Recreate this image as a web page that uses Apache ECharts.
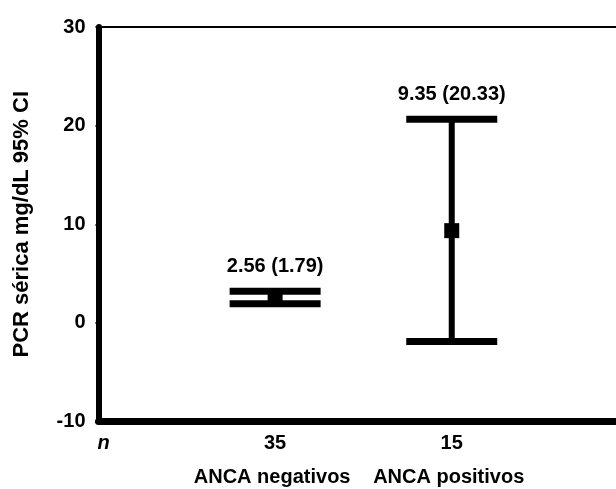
<!DOCTYPE html>
<html><head><meta charset="utf-8">
<script src="https://cdn.jsdelivr.net/npm/echarts@6/dist/echarts.min.js"></script>
<style>html,body{margin:0;padding:0;background:#fff}#c{width:616px;height:489px}</style>
</head><body><div id="c"></div>
<script>
var groupNames = ['ANCA negativos', 'ANCA positivos'];
var nValues = ['35', '15'];
var means = [2.56, 9.35];
var sds = ['1.79', '20.33'];
var lowerCI = [1.95, -1.9];
var upperCI = [3.2, 20.65];
var yTicks = [-10, 0, 10, 20, 30];

var data = means.map(function (m, i) { return [i + 1, lowerCI[i], upperCI[i], m]; });
var FONT = 'Liberation Sans, Arial, sans-serif';

var chart = echarts.init(document.getElementById('c'), null, {renderer: 'canvas'});
chart.setOption({
  animation: false,
  grid: {left: 98.5, right: 0, top: 27, bottom: 67.5},
  xAxis: [{
    type: 'value', min: 0, max: 2.93, interval: 1, position: 'bottom',
    splitLine: {show: false},
    axisLine: {show: true, onZero: false, lineStyle: {color: '#000', width: 7}},
    axisTick: {show: true, length: 3, lineStyle: {color: '#000', width: 2}},
    axisLabel: {
      show: true, margin: 11, showMaxLabel: false, showMinLabel: true,
      formatter: function (v) {
        if (v === 0) return '{n|n}\n{c| }';
        var i = Math.round(v) - 1;
        if (Math.abs(v - Math.round(v)) > 1e-6 || i < 0 || i >= nValues.length) return '';
        return '{v|' + nValues[i] + '}\n{c|' + groupNames[i] + '}';
      },
      rich: {
        n: {fontFamily: FONT, fontSize: 20, fontWeight: 'bold', fontStyle: 'italic', color: '#000', lineHeight: 22, padding: [0, 0, 0, 10]},
        v: {fontFamily: FONT, fontSize: 20, fontWeight: 'bold', color: '#000', lineHeight: 22},
        c: {fontFamily: FONT, fontSize: 20, fontWeight: 'bold', color: '#000', lineHeight: 46, padding: [0, 6, 0, 0]}
      }
    }
  }, {
    type: 'value', min: 0, max: 2.93, position: 'top',
    splitLine: {show: false},
    axisLine: {show: true, onZero: false, lineStyle: {color: '#000', width: 2}},
    axisTick: {show: false}, axisLabel: {show: false}
  }],
  yAxis: {
    type: 'value', min: yTicks[0], max: yTicks[yTicks.length - 1], interval: 10,
    name: 'PCR sérica mg/dL 95% CI', nameLocation: 'middle', nameRotate: 90, nameGap: 66,
    nameTextStyle: {fontFamily: FONT, fontSize: 22, fontWeight: 'bold', color: '#000', padding: [0, 0, 0, 0]},
    splitLine: {show: false},
    axisLine: {show: true, onZero: false, lineStyle: {color: '#000', width: 6}},
    axisTick: {show: true, length: 3, lineStyle: {color: '#000', width: 2}},
    axisLabel: {margin: 13, fontFamily: FONT, fontSize: 20, fontWeight: 'bold', color: '#000', padding: [0, 0, 6, 0]}
  },
  series: [{
    type: 'custom',
    data: data,
    renderItem: function (params, api) {
      var x = api.value(0);
      var lo = api.coord([x, api.value(1)]);
      var hi = api.coord([x, api.value(2)]);
      var mid = api.coord([x, api.value(3)]);
      var half = 45.5;
      var idx = params.dataIndex;
      var st = {stroke: '#000', lineWidth: 7};
      return {
        type: 'group',
        children: [
          {type: 'line', shape: {x1: lo[0], y1: lo[1], x2: hi[0], y2: hi[1]}, style: {stroke: '#000', lineWidth: 6}},
          {type: 'line', shape: {x1: hi[0] - half, y1: hi[1], x2: hi[0] + half, y2: hi[1]}, style: st},
          {type: 'line', shape: {x1: lo[0] - half, y1: lo[1], x2: lo[0] + half, y2: lo[1]}, style: st},
          {type: 'rect', shape: {x: mid[0] - 7.5, y: mid[1] - 7.5, width: 15, height: 15}, style: {fill: '#000'}},
          {type: 'text', x: hi[0], y: hi[1] - 25, style: {
            text: means[idx].toFixed(2) + ' (' + sds[idx] + ')',
            fontFamily: FONT, fontSize: 20, fontWeight: 'bold', fill: '#000',
            align: 'center', verticalAlign: 'middle'}}
        ]
      };
    }
  }]
});
</script></body></html>
